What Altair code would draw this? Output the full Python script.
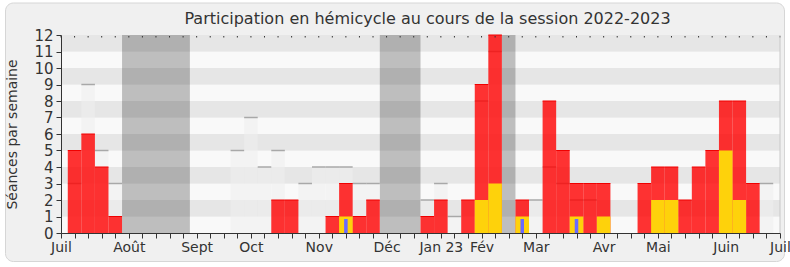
import altair as alt
import pandas as pd

# ---- data (week index 1..52 of the session) ----
weeks = list(range(1, 53))
presence = [5, 6, 4, 1, 0, 0, 0, 0, 0, 0, 0, 0, 0, 0, 0, 2, 2, 0, 0, 1, 3, 1, 2, 0, 0, 0,
            1, 2, 0, 2, 9, 12, 0, 2, 0, 8, 5, 3, 3, 3, 0, 0, 3, 4, 4, 2, 4, 5, 8, 8, 3, 0]
interventions = [0, 0, 0, 0, 0, 0, 0, 0, 0, 0, 0, 0, 0, 0, 0, 0, 0, 0, 0, 0, 1, 0, 0, 0, 0, 0,
                 0, 0, 0, 0, 2, 3, 0, 1, 0, 0, 0, 1, 0, 1, 0, 0, 0, 2, 2, 0, 0, 0, 5, 2, 0, 0]
questions = [0, 0, 0, 0, 0, 0, 0, 0, 0, 0, 0, 0, 0, 0, 0, 0, 0, 0, 0, 0, 1, 0, 0, 0, 0, 0,
             0, 0, 0, 0, 0, 0, 0, 1, 0, 0, 0, 1, 0, 0, 0, 0, 0, 0, 0, 0, 0, 0, 0, 0, 0, 0]
median = [3, 9, 5, 3, 0, 0, 0, 0, 0, 0, 0, 0, 5, 7, 4, 5, 0, 3, 4, 4, 4, 3, 3, 0, 0, 0,
          2, 3, 1, 0, 8, 11, 0, 0, 2, 4, 3, 2, 2, 0, 0, 0, 0, 0, 0, 0, 0, 0, 0, 0, 0, 3]

vac_first = [5, 24, 33]
vac_last = [9, 26, 33]

label_weeks = [0, 5, 10, 14, 19, 24, 28, 31, 35, 40, 44, 49, 53]
label_names = ["Juil", "Août", "Sept", "Oct", "Nov", "Déc", "Jan 23", "Fév",
               "Mar", "Avr", "Mai", "Juin", "Juil"]
tick_weeks = list(range(0, 54))
y_levels = list(range(0, 12))

TITLE = "Participation en hémicycle au cours de la session 2022-2023"
YTITLE = "Séances par semaine"

# ---- layout ----
W, H = 719, 198
FONT = "DejaVu Sans"
TXT = "#333333"

df = pd.DataFrame({"week": weeks, "presence": presence, "interventions": interventions,
                   "questions": questions, "median": median})
stripes = pd.DataFrame({"lo": y_levels})
vac = pd.DataFrame({"first": vac_first, "last": vac_last})
ticks = pd.DataFrame({"week": tick_weeks})

xs = alt.Scale(domain=[0, 53], nice=False, zero=False)
ys = alt.Scale(domain=[0, 12], nice=False, zero=True)

label_expr = " : ".join(f"datum.value == {k} ? '{n}'" for k, n in zip(label_weeks, label_names)) + " : ''"

x_axis = alt.Axis(values=tick_weeks, labelExpr=label_expr, tickSize=5, tickColor=TXT,
                  domainColor=TXT, labelFont=FONT, labelFontSize=14, labelColor=TXT,
                  labelPadding=2, title=None, grid=False, zindex=2, labelOverlap=False,
                  labelFlush=False, labelBound=False)
y_axis = alt.Axis(values=list(range(0, 13)), tickSize=5, tickColor=TXT, domainColor=TXT,
                  labelFont=FONT, labelFontSize=15, labelColor=TXT, labelPadding=3,
                  grid=False, zindex=2, title=YTITLE, titleFont=FONT, titleFontSize=14,
                  titleFontWeight="normal", titleColor=TXT, titleX=-42, labelOverlap=False,
                  labelFlush=False)

base = alt.Chart(df).transform_calculate(x0="datum.week - 0.5", x1="datum.week + 0.5")

frame = alt.Chart(alt.Data(values=[{}])).mark_rect(
    fill="#F0F0F0", stroke="#D6D6D6", strokeWidth=1, cornerRadius=8
).encode(x=alt.value(-55.5), x2=alt.value(W + 4.5), y=alt.value(-32), y2=alt.value(H + 28.5))

stripe_layer = alt.Chart(stripes).transform_calculate(
    hi="datum.lo + 1",
    fill="datum.lo % 2 == 1 ? '#E6E6E6' : '#F9F9F9'"
).mark_rect().encode(
    x=alt.value(0), x2=alt.value(W),
    y=alt.Y("lo:Q", scale=ys, axis=y_axis), y2="hi:Q",
    fill=alt.Fill("fill:N", scale=None)
)

vac_layer = alt.Chart(vac).transform_calculate(
    a="datum.first - 0.5", b="datum.last + 0.5"
).mark_rect(color="#000000", opacity=0.235).encode(
    x=alt.X("a:Q", scale=xs, axis=x_axis), x2="b:Q",
    y=alt.value(0), y2=alt.value(H)
)

med_fill = base.transform_filter("datum.median > 0").mark_rect(color="#EFEFEF", opacity=0.55).encode(
    x=alt.X("x0:Q", scale=xs, axis=x_axis), x2="x1:Q",
    y=alt.Y("median:Q", scale=ys, axis=y_axis), y2=alt.datum(0)
)
med_line = base.transform_filter("datum.median > 0").mark_rule(color="#A8A8A8", strokeWidth=1.5).encode(
    x=alt.X("x0:Q", scale=xs, axis=x_axis), x2="x1:Q",
    y=alt.Y("median:Q", scale=ys, axis=y_axis)
)

red = base.transform_filter("datum.presence > 0").mark_rect(color="#FF0000", opacity=0.8).encode(
    x=alt.X("x0:Q", scale=xs, axis=x_axis), x2="x1:Q",
    y=alt.Y("presence:Q", scale=ys, axis=y_axis), y2=alt.datum(0)
)
red_top = base.transform_filter("datum.presence > 0").mark_rule(color="#F00000", strokeWidth=1).encode(
    x=alt.X("x0:Q", scale=xs, axis=x_axis), x2="x1:Q",
    y=alt.Y("presence:Q", scale=ys, axis=y_axis)
)
yellow = base.transform_filter("datum.interventions > 0").mark_rect(color="#FED20B").encode(
    x=alt.X("x0:Q", scale=xs, axis=x_axis), x2="x1:Q",
    y=alt.Y("interventions:Q", scale=ys, axis=y_axis), y2=alt.datum(0)
)
blue = base.transform_filter("datum.questions > 0").transform_calculate(
    b0="datum.week - 0.13", b1="datum.week + 0.13", qtop="datum.questions - 0.15"
).mark_rect(color="#6A6AFF").encode(
    x=alt.X("b0:Q", scale=xs, axis=x_axis), x2="b1:Q",
    y=alt.Y("qtop:Q", scale=ys, axis=y_axis), y2=alt.datum(0)
)

top_dots = alt.Chart(ticks).mark_rule(color="#333333", strokeWidth=1).encode(
    x=alt.X("week:Q", scale=xs, axis=x_axis), y=alt.value(1), y2=alt.value(2.5)
)
right_edge = alt.Chart(alt.Data(values=[{}])).mark_rule(color="#C8C8C8", strokeWidth=1).encode(
    x=alt.value(W), y=alt.value(0), y2=alt.value(H)
)

chart = alt.layer(
    frame, stripe_layer, vac_layer, med_fill, med_line, red, red_top, yellow, blue, top_dots, right_edge
).properties(
    width=W, height=H,
    title=alt.TitleParams(text=TITLE, font=FONT, fontSize=16, fontWeight="normal", color=TXT,
                          anchor="middle", frame="group", dx=7, offset=-24.5, zindex=2),
    autosize=alt.AutoSizeParams(type="none"),
    padding={"left": 61, "top": 35, "right": 10, "bottom": 34},
    background="white",
).configure_view(stroke=None)

chart.save("out.html", embed_options={"renderer": "svg", "actions": False})
